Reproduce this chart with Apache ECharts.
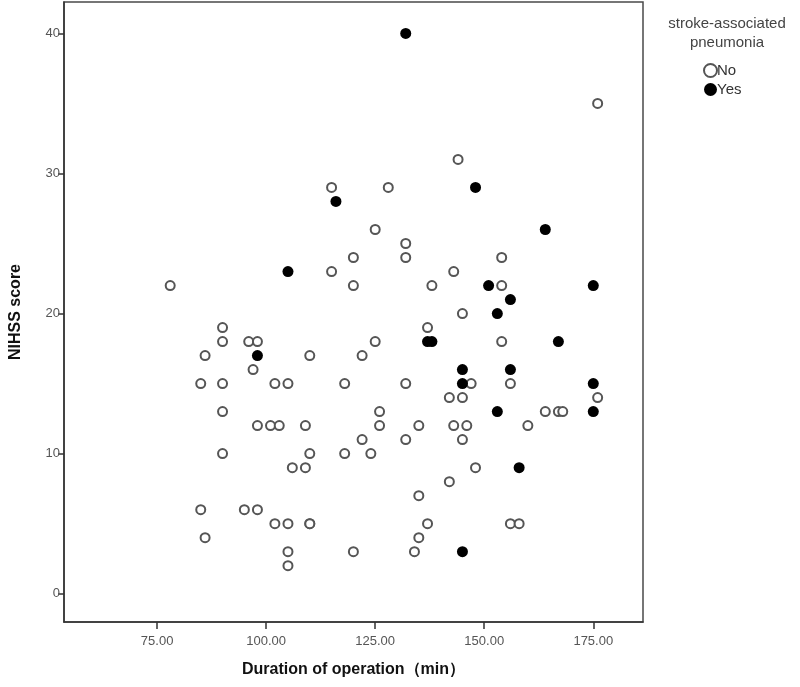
<!DOCTYPE html>
<html>
<head>
<meta charset="utf-8">
<script src="https://cdn.jsdelivr.net/npm/echarts@6/dist/echarts.min.js"></script>
<style>
html,body{margin:0;padding:0;background:#fff;}
#chart{width:800px;height:687px;}
</style>
</head>
<body>
<div id="chart"></div>
<script>
// Pneumonia = No
const durationNo = [176,144,115,128,125,132,132,120,154,115,143,78,120,138,154,145,137,90,125,154,90,96,98,86,110,122,97,85,90,102,105,118,132,147,156,142,145,176,90,126,164,167,168,98,101,103,109,126,135,143,146,160,122,132,145,90,110,118,124,106,109,148,142,135,85,95,98,102,105,110,110,137,156,158,86,135,105,120,134,105];
const nihssNo    = [35,31,29,29,26,25,24,24,24,23,23,22,22,22,22,20,19,19,18,18,18,18,18,17,17,17,16,15,15,15,15,15,15,15,15,14,14,14,13,13,13,13,13,12,12,12,12,12,12,12,12,12,11,11,11,10,10,10,10,9,9,9,8,7,6,6,6,5,5,5,5,5,5,5,4,4,3,3,3,2];
// Pneumonia = Yes
const durationYes = [132,116,105,148,164,151,175,156,153,137,138,167,145,156,145,175,153,175,158,145,98];
const nihssYes    = [40,28,23,29,26,22,22,21,20,18,18,18,16,16,15,15,13,13,9,3,17];

const xTicks = [75,100,125,150,175];
const yTicks = [0,10,20,30,40];
const groupNames = ['No','Yes'];

const pairs = (xs, ys) => xs.map((x, i) => [x, ys[i]]);
const font = 'Liberation Sans, Arial, sans-serif';

const chart = echarts.init(document.getElementById('chart'), null, {renderer: 'canvas'});
chart.setOption({
  backgroundColor: '#fff',
  animation: false,
  grid: {left: 62, right: 157, top: 2, bottom: 65, show: true, borderColor: '#4a4a4a', borderWidth: 1.5, backgroundColor: '#fff'},
  xAxis: {
    type: 'value', min: 53.65, max: 186.4,
    splitLine: {show: false},
    axisLine: {show: true, onZero: false, lineStyle: {color: '#333', width: 1.5}},
    axisTick: {show: true, customValues: xTicks, length: 7, lineStyle: {color: '#333', width: 1.5}},
    axisLabel: {customValues: xTicks, formatter: v => Number(v).toFixed(2), color: '#555', fontSize: 13, fontFamily: font, margin: 13},
    name: 'Duration of operation（min）', nameLocation: 'middle', nameGap: 40,
    nameTextStyle: {fontSize: 16, fontWeight: 'bold', color: '#111', fontFamily: font}
  },
  yAxis: {
    type: 'value', min: -2.02, max: 42.24,
    splitLine: {show: false},
    axisLine: {show: true, onZero: false, lineStyle: {color: '#333', width: 1.5}},
    axisTick: {show: true, customValues: yTicks, length: 6, lineStyle: {color: '#333', width: 1.5}},
    axisLabel: {customValues: yTicks, color: '#555', fontSize: 13, fontFamily: font, margin: 4},
    name: 'NIHSS score', nameLocation: 'middle', nameGap: 40, nameRotate: 90,
    nameTextStyle: {fontSize: 16, fontWeight: 'bold', color: '#111', fontFamily: font}
  },
  legend: {
    orient: 'vertical', left: 703, top: 63, itemGap: 4, padding: 0,
    itemWidth: 13, itemHeight: 13, icon: 'circle',
    textStyle: {fontSize: 15, color: '#333', fontFamily: font, padding: [0,0,0,-5]},
    data: groupNames
  },
  graphic: [{
    type: 'text', x: 727, y: 14,
    style: {text: 'stroke-associated\npneumonia', align: 'center', verticalAlign: 'top', fill: '#444', fontSize: 15, fontFamily: font, lineHeight: 19}
  }],
  series: [
    {
      name: groupNames[0], type: 'scatter', data: pairs(durationNo, nihssNo),
      symbol: 'circle', symbolSize: 9,
      itemStyle: {color: '#fff', borderColor: '#555', borderWidth: 2, opacity: 1}
    },
    {
      name: groupNames[1], type: 'scatter', data: pairs(durationYes, nihssYes),
      symbol: 'circle', symbolSize: 11,
      itemStyle: {color: '#000', opacity: 1}
    }
  ]
});
</script>
</body>
</html>
